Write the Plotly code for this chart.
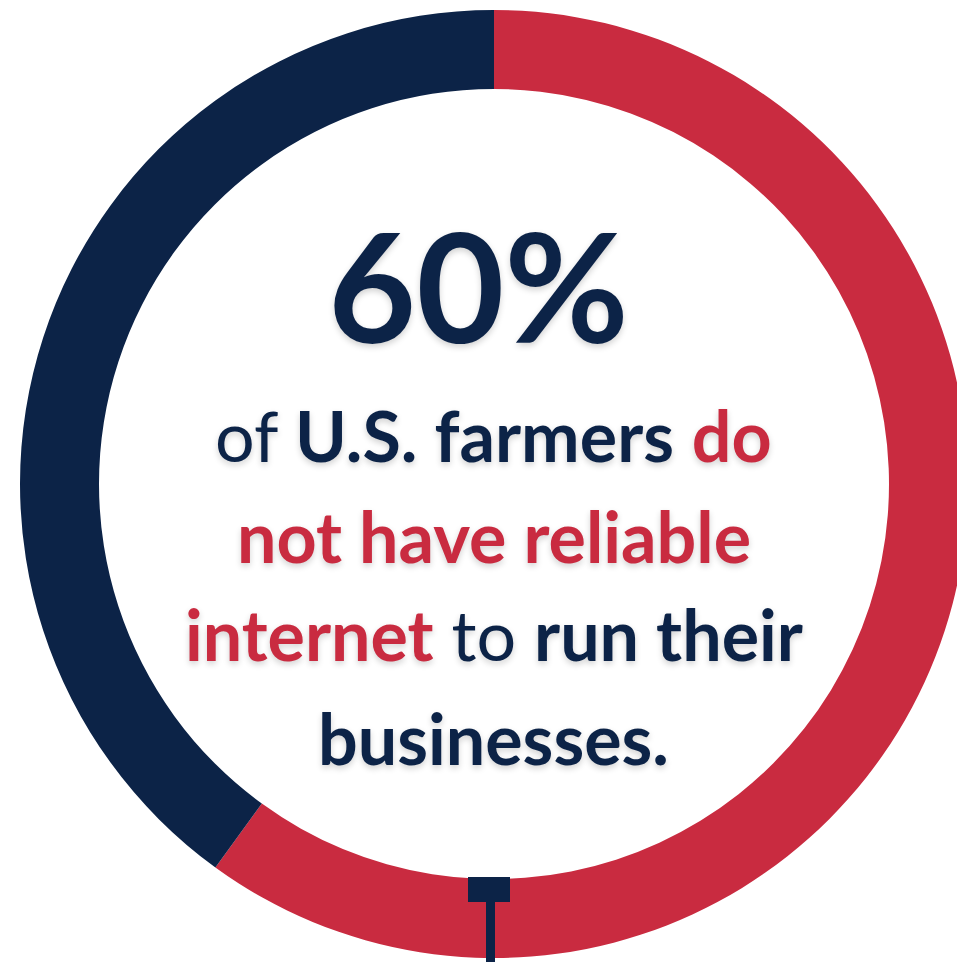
import plotly.graph_objects as go

# ---- data ----
labels = ["Do not have reliable internet", "Have reliable internet"]
values = [60, 40]
colors = ["#C92B40", "#0C2347"]

headline = "60%"
line1 = "of <b>U.S. farmers</b> <b><span style='color:#C92B40'>do</span></b>"
line2 = "<b>not have reliable</b>"
line3 = "<b><span style='color:#C92B40'>internet</span></b> to <b>run their</b>"
line4 = "<b>businesses.</b>"

RED = "#C92B40"
NAVY = "#0C2347"

# ---- geometry (pixels) ----
W, H = 970, 962
CX, CY = 494, 484
R_OUT, R_IN = 474, 395


def px(x):
    return x / W


def py(y):
    return 1 - y / H


fig = go.Figure()
fig.add_trace(go.Pie(
    labels=labels,
    values=values,
    marker=dict(colors=colors, line=dict(width=0)),
    hole=R_IN / R_OUT,
    sort=False,
    direction="clockwise",
    rotation=0,
    textinfo="none",
    hoverinfo="label+percent",
    showlegend=False,
    domain=dict(x=[px(CX - R_OUT), px(CX + R_OUT)],
                y=[py(CY + R_OUT), py(CY - R_OUT)]),
))

shadow = "0px 3px 6px rgba(0,0,0,0.18)"
FONT = "Lato, 'Open Sans', sans-serif"

fig.add_annotation(text=f"<b>{headline}</b>", x=px(478), y=py(284),
                   xref="paper", yref="paper", showarrow=False,
                   xanchor="center", yanchor="middle",
                   font=dict(family=FONT, size=152, color=NAVY, shadow=shadow))

body_lines = [(line1, NAVY, 435), (line2, RED, 536), (line3, NAVY, 634), (line4, NAVY, 738)]
for txt, col, yy in body_lines:
    fig.add_annotation(text=txt, x=px(CX), y=py(yy),
                       xref="paper", yref="paper", showarrow=False,
                       xanchor="center", yanchor="middle",
                       font=dict(family=FONT, size=70, color=col, shadow=shadow))

# decorative marker at bottom of ring
fig.add_shape(type="rect", xref="paper", yref="paper",
              x0=px(CX - 26), x1=px(CX + 16), y0=py(902), y1=py(877),
              fillcolor=NAVY, line=dict(width=0))
fig.add_shape(type="rect", xref="paper", yref="paper",
              x0=px(CX - 8), x1=px(CX + 1), y0=py(H), y1=py(902),
              fillcolor=NAVY, line=dict(width=0))

fig.update_layout(
    width=W, height=H,
    margin=dict(l=0, r=0, t=0, b=0),
    paper_bgcolor="white",
    plot_bgcolor="white",
)

fig.write_html(
    "out.html",
    config={"displayModeBar": False},
    post_script="document.body.style.margin='0';document.body.style.overflow='hidden';document.documentElement.style.overflow='hidden';",
)
